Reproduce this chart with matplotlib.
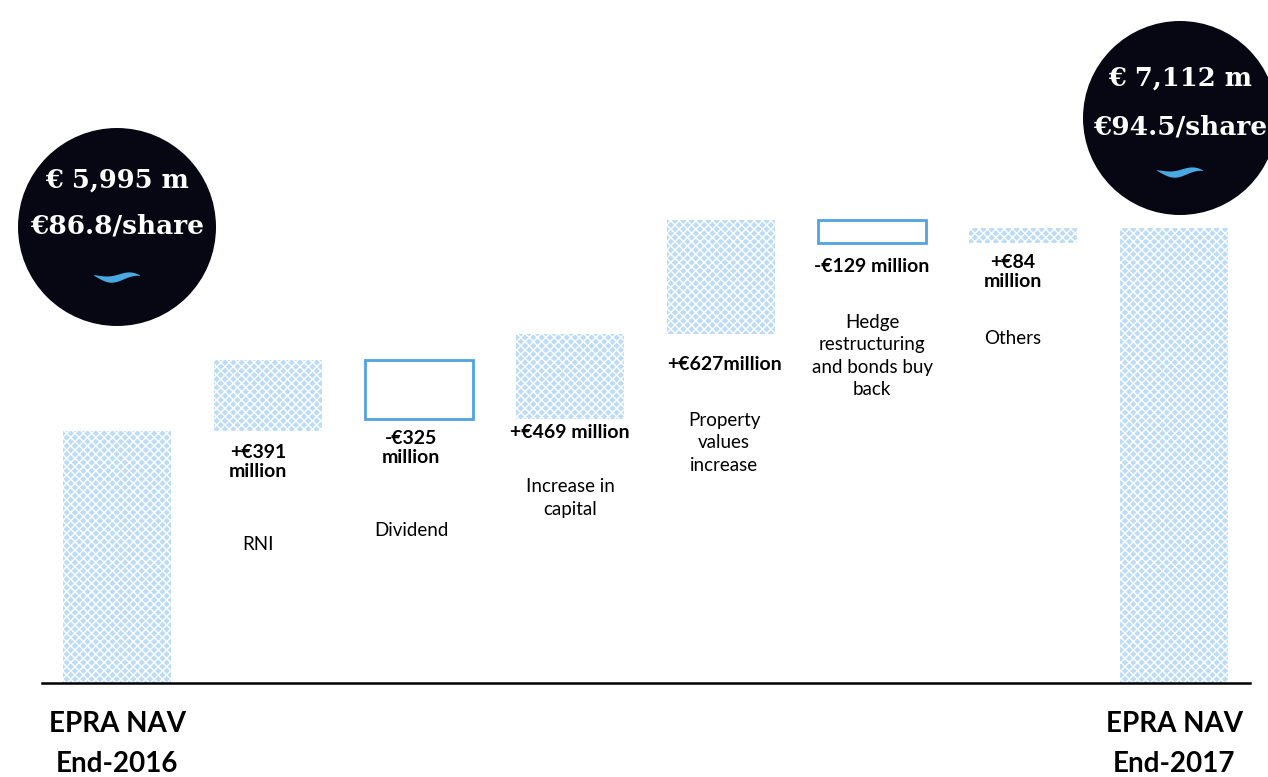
import matplotlib
matplotlib.use("Agg")
import matplotlib.pyplot as plt
from matplotlib.patches import Circle, Polygon
import numpy as np

# ---- data ----
categories = ["EPRA NAV\nEnd-2016", "RNI", "Dividend", "Increase in\ncapital",
              "Property\nvalues\nincrease", "Hedge\nrestructuring\nand bonds buy\nback",
              "Others", "EPRA NAV\nEnd-2017"]
changes = [391, -325, 469, 627, -129, 84]
start_nav = 5995
end_nav = 7112
value_labels = ["+€391\nmillion", "-€325\nmillion", "+€469 million", "+€627million",
                "-€129 million", "+€84\nmillion"]
circle_texts = [("€ 5,995 m", "€86.8/share"), ("€ 7,112 m", "€94.5/share")]

W, H = 1268, 777
fig = plt.figure(figsize=(W / 100, H / 100), dpi=100)
ax = fig.add_axes([0, 0, 1, 1])
ax.axis("off")

# axis scale (values do not start at zero in the original)
axis_base = 4608
px_per_unit = 0.18174
ax.set_ylim(axis_base - (H - 683) / px_per_unit, axis_base + 683 / px_per_unit)
ax.set_xlim(-117 / 151, (W - 117) / 151)

BAR_FACE = "#bddcf5"
EDGE_BLUE = "#4ea4e2"
plt.rcParams["hatch.linewidth"] = 1.0
width = 108 / 151

def hatched(x, bottom, top):
    ax.bar(x, top - bottom, bottom=bottom, width=width, color=BAR_FACE,
           edgecolor="white", hatch="xxxx", linewidth=0, zorder=2)

# totals
hatched(0, axis_base, start_nav)
hatched(len(categories) - 1, axis_base, end_nav)

# steps
level = start_nav
for i, c in enumerate(changes, start=1):
    lo, hi = (level, level + c) if c >= 0 else (level + c, level)
    if c >= 0:
        hatched(i, lo, hi)
    else:
        ax.bar(i, hi - lo, bottom=lo, width=width, facecolor="white",
               edgecolor=EDGE_BLUE, linewidth=2, zorder=2)
    level += c

ax.axhline(axis_base, xmin=42 / W, xmax=1250 / W, color="black", lw=1.8, zorder=3)

sans = ["Lato", "DejaVu Sans"]
# label placement (image pixels from top; x shift in pixels)
val_y = [462, 448, 432, 365, 266, 272]
cat_y = [545, 530, 498, 443, 356, 338]
x_shift = [-10, -8, 0, 3, 0, -10]
for i in range(len(changes)):
    xpos = i + 1 + x_shift[i] / 151
    ax.annotate(value_labels[i], xy=(xpos, H - val_y[i]), xycoords=("data", "figure pixels"),
                ha="center", va="center", fontsize=14, fontweight="bold",
                family=sans, linespacing=1.15, color="black")
    ax.annotate(categories[i + 1], xy=(xpos, H - cat_y[i]), xycoords=("data", "figure pixels"),
                ha="center", va="center", fontsize=13.5, family=sans,
                linespacing=1.4, color="black")

for idx in (0, len(categories) - 1):
    ax.annotate(categories[idx], xy=(idx, H - 744), xycoords=("data", "figure pixels"),
                ha="center", va="center", fontsize=20, fontweight="bold",
                family=sans, linespacing=1.7, color="black")

# circles
tr = fig.dpi_scale_trans
serif = ["DejaVu Serif"]
circles = [(117, 227, 99, 180, 226, 277), (1180, 118, 97, 78, 127, 172)]
for (cx, cy, r, y1, y2, yw), (t1, t2) in zip(circles, circle_texts):
    fig.patches.append(Circle((cx / 100, (H - cy) / 100), r / 100, transform=tr,
                              facecolor="#060712", edgecolor="none", zorder=5))
    fig.text(cx / W, (H - y1) / H, t1, ha="center", va="center", color="white",
             fontsize=18.5, fontweight="bold", family=serif, zorder=6)
    fig.text(cx / W, (H - y2) / H, t2, ha="center", va="center", color="white",
             fontsize=19, fontweight="bold", family=serif, zorder=6)
    # small wave decoration
    t = np.linspace(0, 1, 40)
    xs = (cx - 23 + 46 * t)
    mid = (H - yw) - 2.5 * np.sin(2 * np.pi * (t - 0.1))
    thick = 3.2 * np.sin(np.pi * t) + 0.3
    pts = np.concatenate([np.c_[xs, mid + thick], np.c_[xs[::-1], (mid - thick)[::-1]]]) / 100
    fig.patches.append(Polygon(pts, closed=True, transform=tr, facecolor="#4aa8e2",
                               edgecolor="none", zorder=6))

fig.savefig("out.png", dpi=100)
